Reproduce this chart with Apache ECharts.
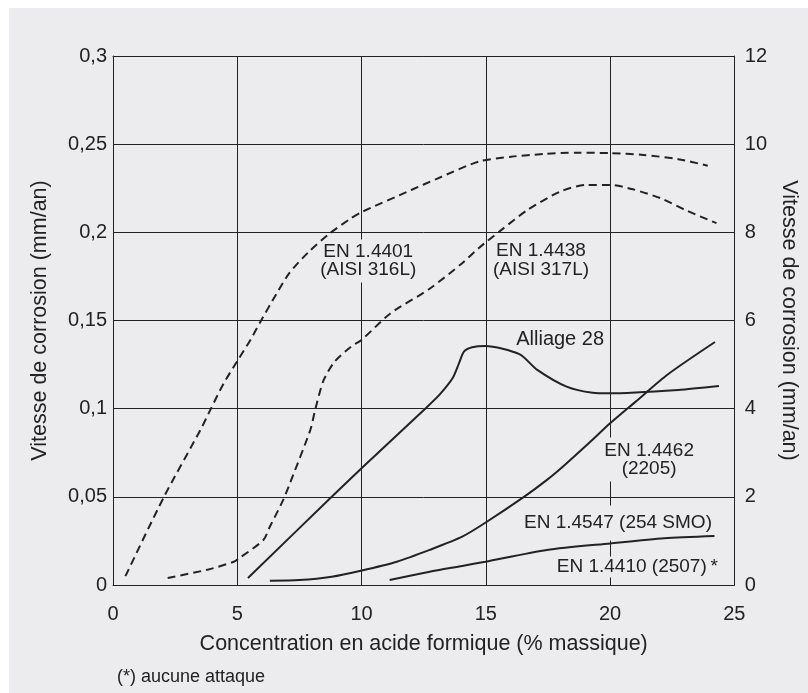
<!DOCTYPE html>
<html><head><meta charset="utf-8">
<script src="https://cdn.jsdelivr.net/npm/echarts@6/dist/echarts.min.js"></script>
<style>html,body{margin:0;padding:0;background:#fff;width:808px;height:693px;overflow:hidden}
#c{position:absolute;left:9px;top:8px;width:799px;height:685px}</style>
</head><body><div id="c"></div>
<script>
// ---- tick labels ----
const xTicks = ['0', '5', '10', '15', '20', '25'];
const leftTicks = ['0', '0,05', '0,1', '0,15', '0,2', '0,25', '0,3'];
const rightTicks = ['0', '2', '4', '6', '8', '10', '12'];

// ---- series values: [concentration %, corrosion rate mm/an] ----
const en4401 = [[0.5,0.005],[2.05,0.05],[3.52,0.088],[3.94,0.1],[4.44,0.114],[5.0,0.127],[5.53,0.139],[5.92,0.149],[6.57,0.165],[7.1,0.177],[7.88,0.189],[8.73,0.1995],[9.58,0.208],[10.0,0.2115],[12.0,0.224],[13.05,0.2305],[14.71,0.2401],[16.02,0.2429],[17.33,0.2444],[18.64,0.2452],[20.0,0.2449],[21.34,0.2439],[22.74,0.2415],[23.93,0.2378]];
const en4438 = [[2.2,0.004],[3.84,0.0088],[4.86,0.0132],[5.07,0.0151],[6.05,0.0255],[6.31,0.033],[6.84,0.048],[7.1,0.057],[7.94,0.088],[8.14,0.0997],[8.47,0.116],[8.92,0.1267],[9.58,0.1352],[10.0,0.139],[11.16,0.154],[12.74,0.168],[14.05,0.1825],[14.71,0.191],[15.63,0.2014],[16.68,0.2127],[17.99,0.2231],[19.05,0.2269],[20.0,0.2269],[20.92,0.2244],[22.04,0.2193],[23.02,0.2127],[24.28,0.2052]];
const alliage28 = [[5.43,0.004],[8.8,0.05],[10.0,0.0662],[12.54,0.0997],[13.13,0.1078],[13.66,0.1172],[13.92,0.1257],[14.12,0.1323],[14.45,0.1348],[14.98,0.1356],[16.35,0.1309],[17.07,0.122],[18.25,0.1125],[19.3,0.109],[19.95,0.1087],[22.74,0.1106],[24.38,0.1128]];
const en4462 = [[6.31,0.0024],[7.49,0.0028],[8.8,0.0047],[9.97,0.0081],[11.42,0.0132],[12.74,0.0199],[14.05,0.0274],[14.98,0.0353],[16.55,0.0501],[17.46,0.0596],[18.13,0.0675],[19.15,0.0805],[20.0,0.0917],[21.03,0.104],[22.33,0.1195],[24.22,0.1378]];
const en4547 = [[11.13,0.0028],[12.74,0.0075],[14.05,0.0108],[14.98,0.0132],[17.46,0.0199],[20.01,0.0236],[22.18,0.0265],[24.2,0.0278]];

const ink = '#222';
const bg = '#ececee';
const font = '"Liberation Sans", Arial, Helvetica, sans-serif';

function lbl(text, coord, opts) {
  return {
    z: 1,
    silent: true,
    symbol: 'rect',
    symbolSize: 1,
    itemStyle: { color: 'transparent' },
    label: Object.assign({
      show: true, position: 'inside', formatter: text,
      color: ink, fontFamily: font, fontSize: 19, lineHeight: 19,
      backgroundColor: bg, padding: [2, 4], align: 'center', verticalAlign: 'middle'
    }, opts || {}),
    data: [{ coord: coord }]
  };
}

function line(name, data, dashed, mp) {
  return {
    name: name, type: 'line', data: data, showSymbol: false, symbol: 'none',
    smooth: 0.25, z: 2,
    lineStyle: { color: ink, width: 2, type: dashed ? [8, 5] : 'solid' },
    markPoint: mp
  };
}

const chart = echarts.init(document.getElementById('c'), null, { renderer: 'canvas' });
chart.setOption({
  animation: false,
  backgroundColor: bg,
  textStyle: { fontFamily: font },
  grid: { left: 104, right: 72.5, top: 48, bottom: 108, containLabel: false },
  xAxis: [{
    type: 'value', min: 0, max: 25, interval: 5, position: 'bottom',
    name: 'Concentration en acide formique (% massique)', nameLocation: 'middle', nameGap: 48,
    nameTextStyle: { color: ink, fontSize: 21.5, fontFamily: font },
    axisLine: { show: true, lineStyle: { color: ink, width: 1 } },
    axisTick: { show: false },
    axisLabel: { color: ink, fontSize: 20, fontFamily: font, margin: 19,
      formatter: v => xTicks[Math.round(v / 5)] },
    splitLine: { show: true, lineStyle: { color: ink, width: 1 } }
  }, {
    type: 'value', min: 0, max: 25, interval: 5, position: 'top',
    axisLine: { show: true, onZero: false, lineStyle: { color: ink, width: 1 } },
    axisTick: { show: false }, axisLabel: { show: false }, splitLine: { show: false }
  }],
  yAxis: [{
    type: 'value', min: 0, max: 0.3, interval: 0.05, position: 'left',
    name: 'Vitesse de corrosion (mm/an)', nameLocation: 'middle', nameGap: 62,
    nameTextStyle: { color: ink, fontSize: 21.5, fontFamily: font },
    axisLine: { show: true, lineStyle: { color: ink, width: 1 } },
    axisTick: { show: false },
    axisLabel: { color: ink, fontSize: 20, fontFamily: font, margin: 6,
      formatter: v => leftTicks[Math.round(v / 0.05)] },
    splitLine: { show: true, lineStyle: { color: ink, width: 1 } }
  }, {
    type: 'value', min: 0, max: 12, interval: 2, position: 'right',
    name: 'Vitesse de corrosion (mm/an)', nameLocation: 'middle', nameGap: 43, nameRotate: -90,
    nameTextStyle: { color: ink, fontSize: 21.5, fontFamily: font },
    axisLine: { show: true, onZero: false, lineStyle: { color: ink, width: 1 } },
    axisTick: { show: false },
    axisLabel: { color: ink, fontSize: 20, fontFamily: font, margin: 10.5,
      formatter: v => rightTicks[Math.round(v / 2)] },
    splitLine: { show: false }
  }],
  series: [
    line('EN 1.4401 (AISI 316L)', en4401, true, lbl('EN 1.4401\n(AISI 316L)', [10.27, 0.1838], { lineHeight: 18.5, padding: [3, 3] })),
    line('EN 1.4438 (AISI 317L)', en4438, true, lbl('EN 1.4438\n(AISI 317L)', [17.22, 0.1843], { lineHeight: 18.5, padding: [3, 3] })),
    line('Alliage 28', alliage28, false, lbl('Alliage 28', [17.99, 0.139], { fontSize: 20, lineHeight: 20 })),
    line('EN 1.4462 (2205)', en4462, false, lbl('EN 1.4462\n(2205)', [21.57, 0.0712], { lineHeight: 18, padding: [4, 3] })),
    line('EN 1.4547 (254 SMO)', en4547, false, lbl('EN 1.4547 (254 SMO)', [24.18, 0.0352], { align: 'right', padding: [8, 2, 8, 2] })),
    line('EN 1.4410 (2507)', [], false, lbl('EN 1.4410 (2507)\u2009*', [24.42, 0.0102], { align: 'right', padding: [1, 2] }))
  ],
  graphic: [{
    type: 'text', left: 108, top: 660, silent: true,
    style: { text: '(*) aucune attaque', fill: ink, font: '18px ' + font }
  }]
});
</script></body></html>
